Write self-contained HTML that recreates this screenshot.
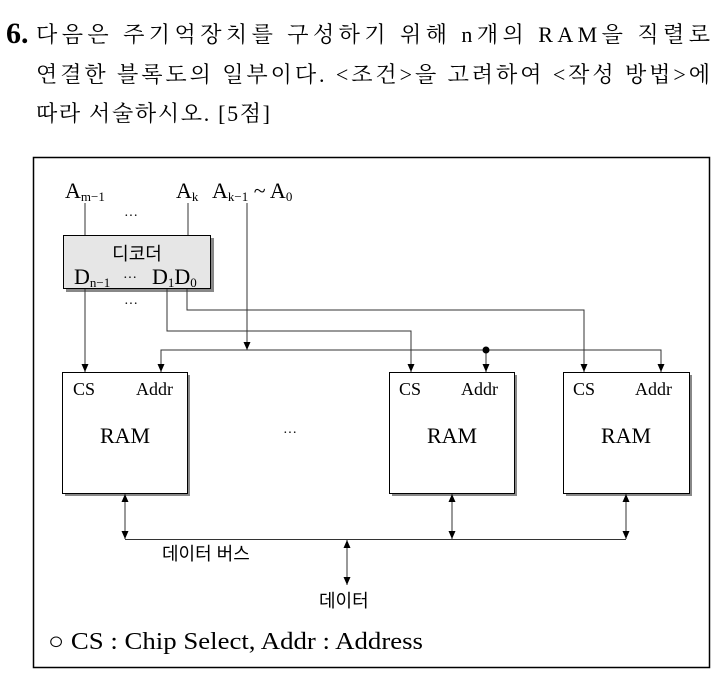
<!DOCTYPE html>
<html><head><meta charset="utf-8"><style>
html,body{margin:0;padding:0;background:#fff;}
svg{display:block;}
.s{font-family:"Liberation Serif","Noto Serif CJK KR","Noto Serif CJK SC",serif;}
.k{font-family:"Liberation Sans","Noto Sans CJK KR",sans-serif;}
</style></head><body>
<svg width="726" height="684" viewBox="0 0 726 684" xmlns="http://www.w3.org/2000/svg">
<defs>
<marker id="a" markerWidth="8" markerHeight="8" refX="8" refY="4" orient="auto-start-reverse" markerUnits="userSpaceOnUse" viewBox="0 0 8 8"><path d="M0,0.5 L8,4 L0,7.5 Z" fill="#000"/></marker>
</defs>
<text x="6" y="43" class="s" font-size="30" font-weight="bold">6.</text>
<text x="36" y="42" class="s" font-size="22" textLength="674" lengthAdjust="spacing">다음은 주기억장치를 구성하기 위해 n개의 RAM을 직렬로</text>
<text x="36" y="82" class="s" font-size="22" textLength="674" lengthAdjust="spacing">연결한 블록도의 일부이다. &lt;조건&gt;을 고려하여 &lt;작성 방법&gt;에</text>
<text x="36" y="121" class="s" font-size="22" textLength="234" lengthAdjust="spacing">따라 서술하시오. [5점]</text>

<rect x="33.5" y="157.5" width="676" height="510" fill="none" stroke="#000" stroke-width="1.5"/>

<g class="s" font-size="22">
<text x="65" y="198">A<tspan font-size="13" dy="3">m−1</tspan></text>
<text x="176" y="198">A<tspan font-size="13" dy="3">k</tspan></text>
<text x="212" y="198">A<tspan font-size="13" dy="3">k−1</tspan><tspan dy="-3"> ~ A</tspan><tspan font-size="13" dy="3">0</tspan></text>
</g>
<text x="131" y="220" class="s" font-size="14" text-anchor="middle">···</text>
<text x="131" y="308" class="s" font-size="14" text-anchor="middle">···</text>
<line x1="85" y1="203" x2="85" y2="235" stroke="#333"/>
<line x1="188" y1="203" x2="188" y2="235" stroke="#333"/>

<rect x="66" y="238" width="148" height="54" fill="#888"/>
<rect x="63.5" y="235.5" width="147" height="53" fill="#e6e6e6" stroke="#000"/>
<text x="137" y="260" class="k" font-size="18" text-anchor="middle">디코더</text>
<g class="s" font-size="22">
<text x="74" y="284">D<tspan font-size="13" dy="3">n−1</tspan></text>
<text x="123" y="282" font-size="14">···</text>
<text x="152" y="284">D<tspan font-size="13" dy="3">1</tspan><tspan dy="-3">D</tspan><tspan font-size="13" dy="3">0</tspan></text>
</g>

<g stroke="#333" fill="none">
<line x1="85" y1="289" x2="85" y2="372" marker-end="url(#a)"/>
<polyline points="167,289 167,331 411,331 411,372" marker-end="url(#a)"/>
<polyline points="187,289 187,310 584,310 584,372" marker-end="url(#a)"/>
<line x1="247" y1="203" x2="247" y2="350" marker-end="url(#a)"/>
<polyline points="161,372 161,350 661,350 661,372" marker-start="url(#a)" marker-end="url(#a)"/>
<line x1="486" y1="350" x2="486" y2="372" marker-end="url(#a)"/>
</g>
<circle cx="486" cy="350" r="3.5" fill="#000"/>

<g>
<rect x="65" y="375" width="125" height="121" fill="#888"/>
<rect x="62.5" y="372.5" width="125" height="121" fill="#fff" stroke="#000"/>
<rect x="392" y="375" width="125" height="121" fill="#888"/>
<rect x="389.5" y="372.5" width="125" height="121" fill="#fff" stroke="#000"/>
<rect x="566" y="375" width="126" height="121" fill="#888"/>
<rect x="563.5" y="372.5" width="126" height="121" fill="#fff" stroke="#000"/>
</g>
<g class="s" font-size="18">
<text x="73" y="395">CS</text><text x="136" y="395">Addr</text>
<text x="399" y="395">CS</text><text x="461" y="395">Addr</text>
<text x="573" y="395">CS</text><text x="635" y="395">Addr</text>
</g>
<g class="s" font-size="22" text-anchor="middle">
<text x="125" y="443">RAM</text><text x="452" y="443">RAM</text><text x="626" y="443">RAM</text>
</g>
<text x="290" y="437" class="s" font-size="14" text-anchor="middle">···</text>

<g stroke="#333" fill="none">
<line x1="125" y1="494" x2="125" y2="539" marker-start="url(#a)" marker-end="url(#a)"/>
<line x1="452" y1="494" x2="452" y2="539" marker-start="url(#a)" marker-end="url(#a)"/>
<line x1="626" y1="494" x2="626" y2="539" marker-start="url(#a)" marker-end="url(#a)"/>
<line x1="125" y1="539.5" x2="626" y2="539.5"/>
<line x1="347" y1="540" x2="347" y2="585" marker-start="url(#a)" marker-end="url(#a)"/>
</g>
<text x="162" y="560" class="k" font-size="18">데이터 버스</text>
<text x="319" y="607" class="k" font-size="18">데이터</text>
<text x="48" y="649" class="s" font-size="24" textLength="375" lengthAdjust="spacingAndGlyphs">○ CS : Chip Select, Addr : Address</text>
</svg>
</body></html>
